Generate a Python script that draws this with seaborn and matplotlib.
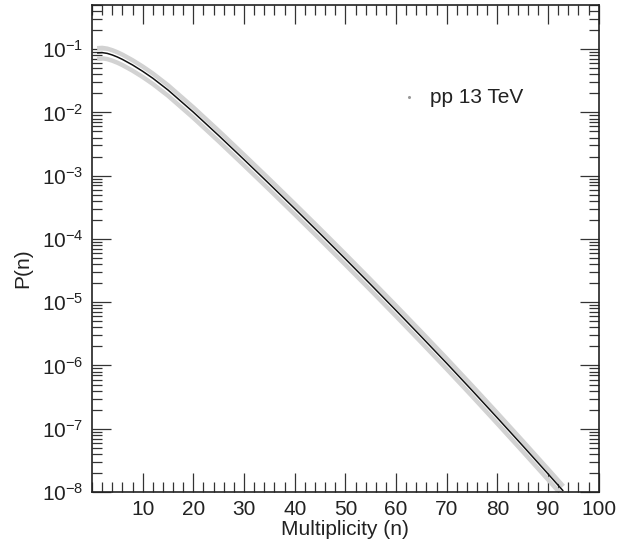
import numpy as np
import pandas as pd
import matplotlib
matplotlib.use("Agg")
import matplotlib.pyplot as plt
import seaborn as sns
from matplotlib.ticker import LogLocator, MultipleLocator, FixedLocator, NullFormatter

# Data (log10 of P(n))
n_vals = [1, 2, 3, 4, 5, 6, 8, 10, 12, 15, 20, 25, 30, 35, 40, 45, 50, 55, 60, 65,
          70, 75, 80, 85, 90, 93]
log_p = [-1.06, -1.055, -1.067, -1.092, -1.124, -1.162, -1.25, -1.35, -1.46, -1.646,
         -1.996, -2.366, -2.746, -3.131, -3.521, -3.916, -4.316, -4.721, -5.131, -5.546,
         -5.966, -6.394, -6.829, -7.269, -7.714, -7.984]
log_upper_offset = 0.075
log_lower_offset = -0.09
label_text = "pp 13 TeV"
x_ticks = [10, 20, 30, 40, 50, 60, 70, 80, 90, 100]
y_ticks = [1e-8, 1e-7, 1e-6, 1e-5, 1e-4, 1e-3, 1e-2, 1e-1]

sns.set_theme(style="ticks")
plt.rcParams['font.family'] = ['Liberation Sans', 'DejaVu Sans']
plt.rcParams['mathtext.fontset'] = 'custom'
plt.rcParams['mathtext.rm'] = 'Liberation Sans'
plt.rcParams['mathtext.it'] = 'Liberation Sans:italic'

n = np.array(n_vals, dtype=float)
lp = np.array(log_p)
df = pd.DataFrame({
    "n": np.concatenate([n, n, n]),
    "P": np.concatenate([10 ** (lp + log_upper_offset), 10 ** (lp + log_lower_offset), 10 ** lp]),
    "band": ["upper"] * len(n) + ["lower"] * len(n) + ["central"] * len(n),
})

fig = plt.figure(figsize=(6.39, 5.47), dpi=100)
ax = fig.add_axes([0.144, 0.1005, 0.793, 0.8905])

kw = dict(solid_joinstyle="round", solid_capstyle="butt")
sns.lineplot(data=df[df.band == "upper"], x="n", y="P", color="#d2d2d2", lw=3.2, ax=ax, **kw)
sns.lineplot(data=df[df.band == "lower"], x="n", y="P", color="#d2d2d2", lw=3.2, ax=ax, **kw)
sns.lineplot(data=df[df.band == "central"], x="n", y="P", color="#111111", lw=1.1, ax=ax, **kw)

ax.set_yscale("log")
ax.set_xlim(0, 100)
ax.set_ylim(1e-8, 0.5)
ax.xaxis.set_major_locator(FixedLocator(x_ticks))
ax.xaxis.set_minor_locator(MultipleLocator(2))
ax.yaxis.set_major_locator(FixedLocator(y_ticks))
ax.yaxis.set_minor_locator(LogLocator(base=10, subs=np.arange(2, 10), numticks=20))
ax.yaxis.set_minor_formatter(NullFormatter())

for side in ["top", "right", "left", "bottom"]:
    ax.spines[side].set_visible(True)
    ax.spines[side].set_color("#222222")
    ax.spines[side].set_linewidth(1.2)

ax.tick_params(which="both", direction="in", top=True, right=True, colors="#333333",
               labelcolor="#222222", labelsize=15)
ax.tick_params(which="major", length=14, width=0.9, pad=6)
ax.tick_params(which="minor", length=7, width=0.9)

ax.set_xlabel("Multiplicity (n)", fontsize=15, color="#222222")
ax.set_ylabel("P(n)", fontsize=15, color="#222222")
ax.xaxis.set_label_coords(0.5, -0.058)
ax.yaxis.set_label_coords(-0.118, 0.46)

ax.plot([0.626], [0.8115], marker="o", ms=1.2, color="#999999", transform=ax.transAxes)
ax.text(0.667, 0.8095, label_text, transform=ax.transAxes, fontsize=15,
        color="#222222", va="center", ha="left")

fig.savefig("out.png", dpi=100)
